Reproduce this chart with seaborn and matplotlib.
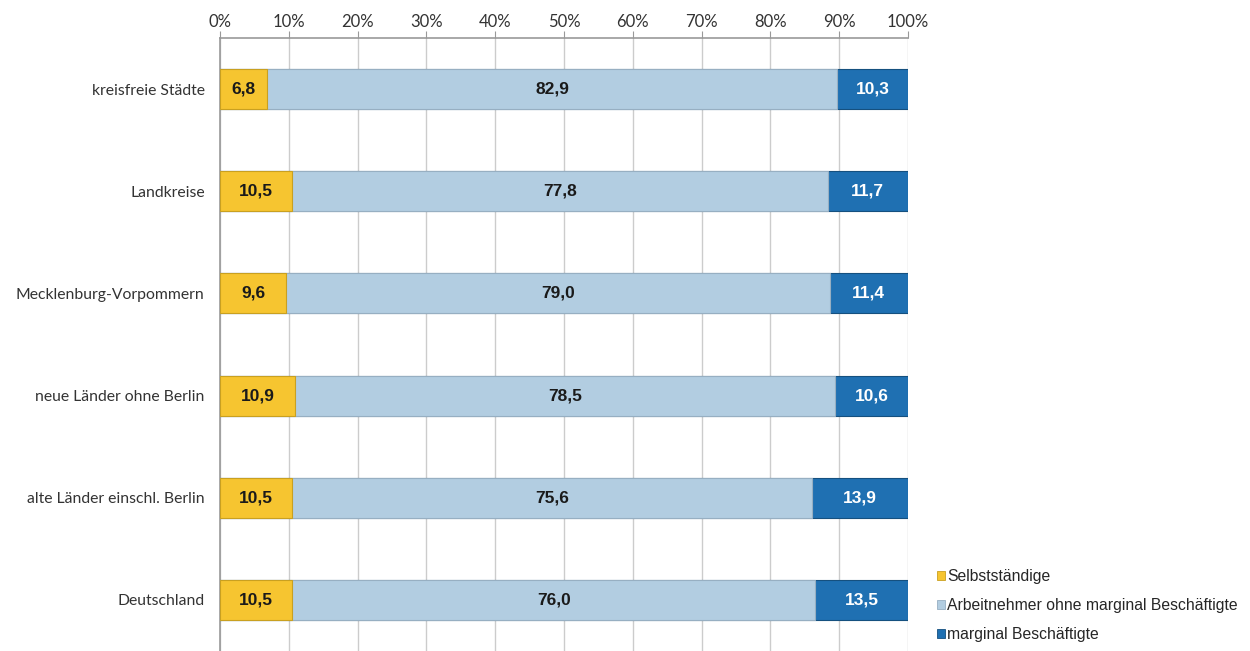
import numpy as np
import pandas as pd
import seaborn as sns
import matplotlib.pyplot as plt
from matplotlib.patches import Patch
from matplotlib.ticker import FixedLocator

# data (shares in %)
regions = ['kreisfreie Städte', 'Landkreise', 'Mecklenburg-Vorpommern',
           'neue Länder ohne Berlin', 'alte Länder einschl. Berlin', 'Deutschland']
selbst = [6.8, 10.5, 9.6, 10.9, 10.5, 10.5]
arbeit = [82.9, 77.8, 79.0, 78.5, 75.6, 76.0]
marginal = [10.3, 11.7, 11.4, 10.6, 13.9, 13.5]
series_names = ['Selbstständige', 'Arbeitnehmer ohne marginal Beschäftigte', 'marginal Beschäftigte']
x_ticks = list(range(0, 101, 10))

colors = ['#F6C530', '#B2CDE1', '#1F70B2']
edges = ['#C9A020', '#97AFC2', '#15507F']

df = pd.DataFrame({'region': regions, 'selbst': selbst, 'arbeit': arbeit, 'marginal': marginal})
df['c1'] = df['selbst']
df['c2'] = df['selbst'] + df['arbeit']
df['c3'] = df['c2'] + df['marginal']

sns.set_style('white')
plt.rcParams['font.family'] = ['Liberation Sans', 'DejaVu Sans']

fig = plt.figure(figsize=(12.5, 6.51), dpi=100)
ax = fig.add_axes([220 / 1250, 0.0, (908 - 220) / 1250, (651 - 38) / 651])

# stacked bars: draw cumulative totals from the largest down
for col, c, e in zip(['c3', 'c2', 'c1'], colors[::-1], edges[::-1]):
    sns.barplot(data=df, x=col, y='region', orient='h', color=c, width=0.39,
                edgecolor=e, linewidth=0.8, saturation=1, ax=ax, zorder=3)

# value labels
for i in range(len(regions)):
    starts = [0, df['c1'][i], df['c2'][i]]
    vals = [selbst[i], arbeit[i], marginal[i]]
    for s, v, tc in zip(starts, vals, ['#1a1a1a', '#1a1a1a', 'white']):
        ax.text(s + v / 2, i, f'{v:.1f}'.replace('.', ','), ha='center', va='center',
                fontsize=12.5, fontweight='bold', color=tc, zorder=5)

ax.set_xlim(0, 100)
ax.set_ylim(5.5, -0.5)
ax.xaxis.set_major_locator(FixedLocator(x_ticks))
ax.set_xticklabels([f'{t}%' for t in x_ticks], family=['Lato', 'DejaVu Sans'], fontsize=12, color='#333333')
ax.xaxis.tick_top()
ax.tick_params(axis='x', direction='out', length=5, color='#999999', pad=1)
ax.grid(axis='x', color='#CCCCCC', linewidth=1, zorder=0)
ax.set_axisbelow(True)

ax.set_yticks(range(len(regions)))
ax.set_yticklabels(regions, family=['Lato', 'DejaVu Sans'], fontsize=11.3, color='#333333')
ax.tick_params(axis='y', which='major', length=0, pad=11)
ax.yaxis.set_minor_locator(FixedLocator(np.arange(0.5, 5.5, 1.0)))
ax.tick_params(axis='y', which='minor', direction='out', length=6, color='#999999')

ax.set_xlabel('')
ax.set_ylabel('')
for side in ['right', 'bottom']:
    ax.spines[side].set_visible(False)
ax.spines['top'].set_color('#999999')
ax.spines['left'].set_color('#999999')
ax.spines['top'].set_linewidth(1.2)
ax.spines['left'].set_linewidth(1.2)

handles = [Patch(facecolor=c, edgecolor=e, linewidth=0.6) for c, e in zip(colors, edges)]
fig.legend(handles, series_names, loc='upper left', bbox_to_anchor=(937 / 1250, 1 - 569 / 651),
           frameon=False, fontsize=11.3, handlelength=0.5, handleheight=0.5,
           handletextpad=0.15, labelspacing=0.9, borderaxespad=0, borderpad=0)

fig.savefig('out.png', dpi=100)
